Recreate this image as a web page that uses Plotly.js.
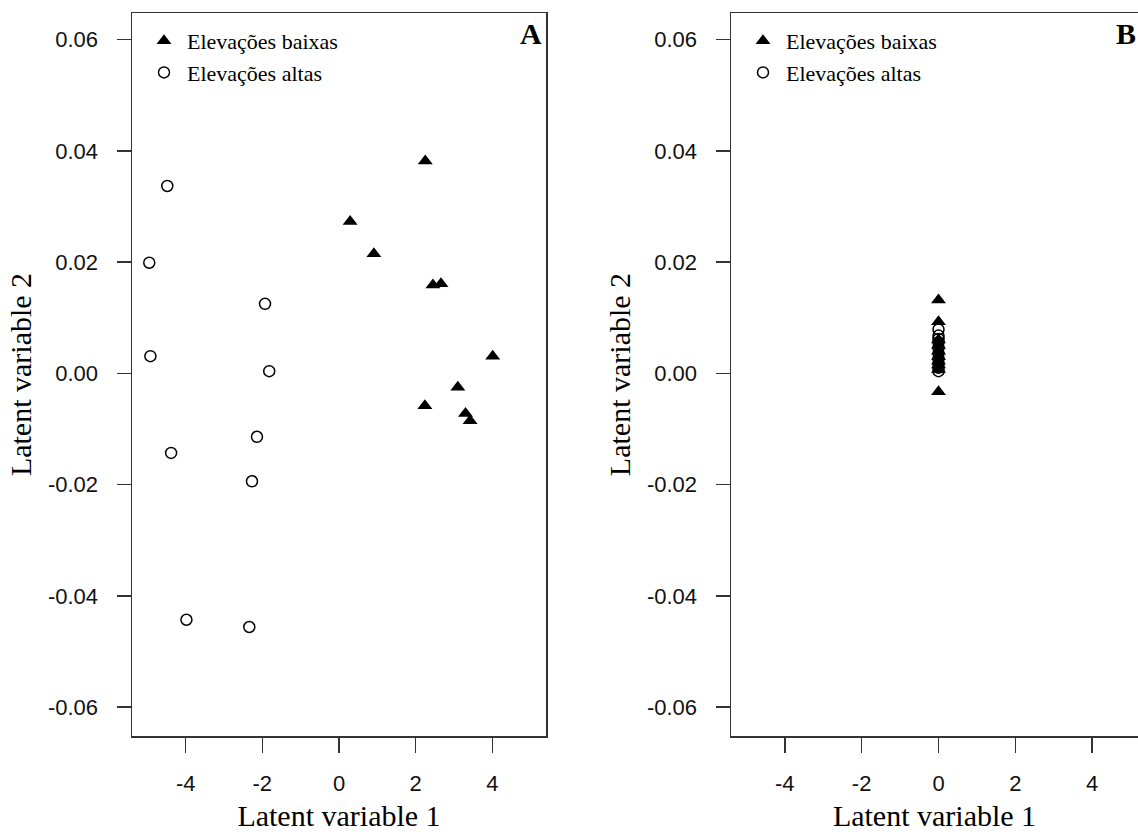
<!DOCTYPE html>
<html>
<head>
<meta charset="utf-8">
<script src="https://cdn.plot.ly/plotly-3.0.1.min.js"></script>
<style>html,body{margin:0;padding:0;background:#fff;}#chart{width:1138px;height:840px;}</style>
</head>
<body>
<div id="chart"></div>
<script>
// Panel A data
const lowX_A  = [2.25, 0.29, 0.91, 2.45, 2.66, 4.01, 3.10, 2.24, 3.30, 3.42];
const lowY_A  = [0.0382, 0.0273, 0.0215, 0.0159, 0.0161, 0.0031, -0.0025, -0.0058, -0.0072, -0.0085];
const highX_A = [-4.48, -4.95, -4.92, -1.93, -1.82, -2.14, -4.38, -2.27, -3.98, -2.34];
const highY_A = [0.0337, 0.0199, 0.0031, 0.0125, 0.0004, -0.0114, -0.0143, -0.0194, -0.0443, -0.0456];
// Panel B data
const lowX_B  = [0, 0, 0, 0, 0, 0, 0, 0, 0, 0];
const lowY_B  = [0.0132, 0.0093, 0.0060, 0.0050, 0.0040, 0.0030, 0.0022, 0.0015, 0.0007, -0.0033];
const highX_B = [0, 0, 0, 0, 0, 0, 0, 0, 0, 0];
const highY_B = [0.0079, 0.0068, 0.0056, 0.0046, 0.0036, 0.0026, 0.0018, 0.0010, 0.0004, 0.0062];

const seriesNames = ["Elevações baixas", "Elevações altas"];
const xTicks = [-4, -2, 0, 2, 4];
const yTicks = [-0.06, -0.04, -0.02, 0.00, 0.02, 0.04, 0.06];
const yTickText = ["-0.06", "-0.04", "-0.02", "0.00", "0.02", "0.04", "0.06"];
const xTitle = "Latent variable 1";
const yTitle = "Latent variable 2";
const panelLabels = ["A", "B"];

const triMarker = {symbol: "triangle-up", size: 13, color: "#000", line: {width: 0}};
const circMarker = {symbol: "circle-open", size: 11, color: "#000", line: {width: 1.5, color: "#000"}};

const traces = [
  {x: highX_A, y: highY_A, type: "scatter", mode: "markers", name: seriesNames[1], marker: circMarker, xaxis: "x", yaxis: "y", legend: "legend", legendrank: 2},
  {x: lowX_A, y: lowY_A, type: "scatter", mode: "markers", name: seriesNames[0], marker: triMarker, xaxis: "x", yaxis: "y", legend: "legend", legendrank: 1},
  {x: highX_B, y: highY_B, type: "scatter", mode: "markers", name: seriesNames[1], marker: circMarker, xaxis: "x2", yaxis: "y2", legend: "legend2", legendrank: 2},
  {x: lowX_B, y: lowY_B, type: "scatter", mode: "markers", name: seriesNames[0], marker: triMarker, xaxis: "x2", yaxis: "y2", legend: "legend2", legendrank: 1}
];

const tickFont = {family: "Liberation Sans, Arial, sans-serif", size: 22, color: "#111"};
const titleFont = {family: "Liberation Serif, Times New Roman, serif", size: 30, color: "#000"};
const yDomain = [1 - 736/840, 1 - 13/840];

function xAxis(domain, range, anchor) {
  return {
    domain: domain, range: range, anchor: anchor,
    tickmode: "array", tickvals: xTicks, ticktext: xTicks.map(String),
    ticks: "outside", ticklen: 15, tickwidth: 1.5, tickcolor: "#333",
    showline: true, mirror: true, linecolor: "#333", linewidth: 1.5,
    showgrid: false, zeroline: false, tickfont: tickFont, ticklabelstandoff: 12,
    title: {text: xTitle, font: titleFont, standoff: 10}
  };
}
function yAxis(anchor) {
  return {
    domain: yDomain, range: [-0.0652, 0.0648], anchor: anchor,
    tickmode: "array", tickvals: yTicks, ticktext: yTickText,
    ticks: "outside", ticklen: 14, tickwidth: 1.5, tickcolor: "#333",
    showline: true, mirror: true, linecolor: "#333", linewidth: 1.5,
    showgrid: false, zeroline: false, tickfont: tickFont, ticklabelstandoff: 14,
    title: {text: yTitle, font: titleFont, standoff: 7}
  };
}

const legendFont = {family: "Liberation Serif, Times New Roman, serif", size: 22, color: "#000"};
const layout = {
  width: 1138, height: 840,
  margin: {l: 0, r: 0, t: 0, b: 0},
  paper_bgcolor: "#fff", plot_bgcolor: "#fff",
  showlegend: true,
  xaxis: xAxis([132/1138, 546/1138], [-5.4, 5.4], "y"),
  yaxis: yAxis("x"),
  xaxis2: xAxis([731/1138, 1], [-5.4, 5.4 - 10.8*8/414], "y2"),
  yaxis2: yAxis("x2"),
  legend: {x: 141/1138, y: 1 - 20/840, xanchor: "left", yanchor: "top", bgcolor: "rgba(0,0,0,0)", borderwidth: 0, font: legendFont, tracegroupgap: 0, itemwidth: 36},
  legend2: {x: 740/1138, y: 1 - 20/840, xanchor: "left", yanchor: "top", bgcolor: "rgba(0,0,0,0)", borderwidth: 0, font: legendFont, tracegroupgap: 0, itemwidth: 36},
  annotations: [
    {text: "<b>" + panelLabels[0] + "</b>", xref: "x domain", yref: "y domain", x: 0.995, y: 0.997, xanchor: "right", yanchor: "top", showarrow: false, font: {family: "Liberation Serif, Times New Roman, serif", size: 30, color: "#000"}},
    {text: "<b>" + panelLabels[1] + "</b>", xref: "paper", yref: "y2 domain", x: 1.0, y: 0.997, xanchor: "right", yanchor: "top", showarrow: false, font: {family: "Liberation Serif, Times New Roman, serif", size: 30, color: "#000"}}
  ]
};

Plotly.newPlot("chart", traces, layout, {staticPlot: true, displayModeBar: false});
</script>
</body>
</html>
